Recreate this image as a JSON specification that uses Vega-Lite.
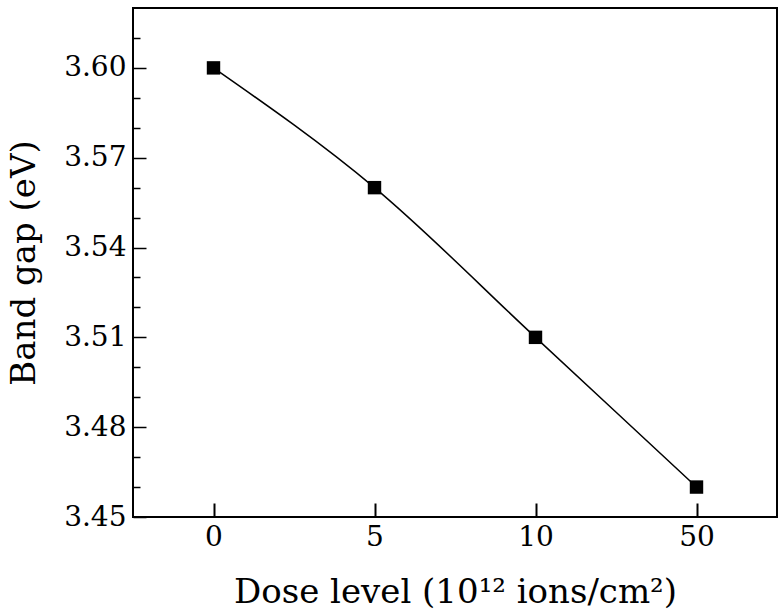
{
  "$schema": "https://vega.github.io/schema/vega-lite/v6.json",
  "width": 644,
  "height": 509,
  "autosize": "none",
  "padding": {"left": 133, "top": 8, "right": 7, "bottom": 96},
  "background": "white",
  "config": {
    "view": {"stroke": "black", "strokeWidth": 2},
    "font": "DejaVu Serif",
    "axis": {"grid": false, "domain": false, "tickColor": "black", "labelColor": "black", "titleColor": "black", "titleFontWeight": "normal"}
  },
  "data": {
    "values": [
      {"dose": "0", "gap": 3.60},
      {"dose": "5", "gap": 3.56},
      {"dose": "10", "gap": 3.51},
      {"dose": "50", "gap": 3.46}
    ]
  },
  "layer": [
    {
      "mark": {"type": "line", "interpolate": "monotone", "color": "black", "strokeWidth": 1.5},
      "encoding": {
        "x": {
          "field": "dose", "type": "ordinal", "sort": null,
          "scale": {"type": "point", "padding": 0.5},
          "axis": {
            "labelAngle": 0, "ticks": true, "tickSize": -14, "tickWidth": 2, "tickColor": "black",
            "labelFontSize": 28, "labelPadding": 20,
            "title": "Dose level (10¹² ions/cm²)", "titleFontSize": 34, "titlePadding": 24
          }
        },
        "y": {
          "field": "gap", "type": "quantitative",
          "scale": {"domain": [3.45, 3.62], "nice": false, "zero": false},
          "axis": {
            "orient": "left",
            "values": [3.45, 3.48, 3.51, 3.54, 3.57, 3.60],
            "format": ".2f", "tickSize": -13, "tickWidth": 1.5,
            "labelFontSize": 28, "labelPadding": 20,
            "title": "Band gap (eV)", "titleFontSize": 34, "titlePadding": 22
          }
        }
      }
    },
    {
      "mark": {"type": "square", "size": 180, "color": "black", "opacity": 1, "filled": true},
      "encoding": {
        "x": {"field": "dose", "type": "ordinal", "sort": null},
        "y": {
          "field": "gap", "type": "quantitative",
          "axis": {
            "orient": "left",
            "values": [3.46, 3.47, 3.49, 3.50, 3.52, 3.53, 3.55, 3.56, 3.58, 3.59, 3.61],
            "tickSize": -7, "tickWidth": 1.5, "labels": false, "title": null
          }
        }
      }
    }
  ],
  "resolve": {"axis": {"y": "independent"}}
}
